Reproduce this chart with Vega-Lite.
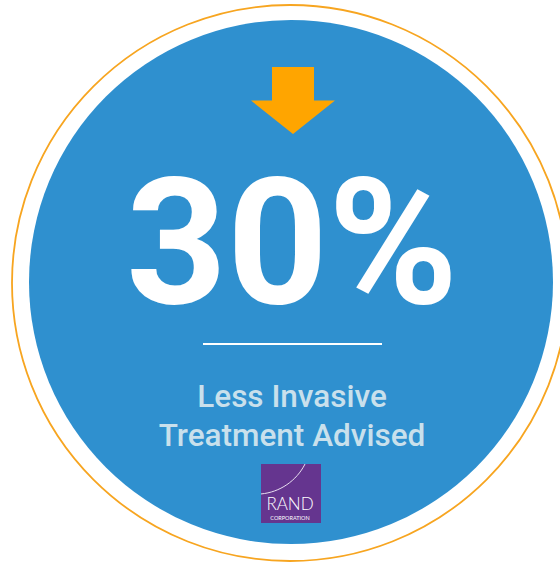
{
  "$schema": "https://vega.github.io/schema/vega-lite/v6.json",
  "width": 560,
  "height": 563,
  "padding": 0,
  "autosize": {"type": "none"},
  "background": "#ffffff",
  "config": {"view": {"stroke": null}},
  "data": {"values": [{"value": 0.30, "label": ["Less Invasive", "Treatment Advised"], "org": "RAND", "orgSub": "CORPORATION"}]},
  "layer": [
    {
      "mark": {"type": "point", "shape": "circle", "filled": false, "stroke": "#f7a520", "strokeWidth": 1.8, "fill": "#ffffff", "fillOpacity": 1, "opacity": 1, "size": 309136},
      "encoding": {
        "x": {"datum": 290, "type": "quantitative", "scale": {"domain": [0, 560]}, "axis": null},
        "y": {"datum": 283, "type": "quantitative", "scale": {"domain": [0, 563], "reverse": true}, "axis": null}
      }
    },
    {
      "mark": {"type": "point", "shape": "circle", "filled": true, "color": "#2f90cf", "opacity": 1, "size": 274576},
      "encoding": {
        "x": {"datum": 291, "type": "quantitative", "scale": {"domain": [0, 560]}, "axis": null},
        "y": {"datum": 282, "type": "quantitative", "scale": {"domain": [0, 563], "reverse": true}, "axis": null}
      }
    },
    {
      "mark": {"type": "point", "shape": "M-0.5,-0.8 L0.5,-0.8 L0.5,0 L1,0 L0,0.8 L-1,0 L-0.5,0 Z", "filled": true, "color": "#ffa500", "opacity": 1, "size": 7056},
      "encoding": {
        "x": {"datum": 293, "type": "quantitative", "scale": {"domain": [0, 560]}, "axis": null},
        "y": {"datum": 100.5, "type": "quantitative", "scale": {"domain": [0, 563], "reverse": true}, "axis": null}
      }
    },
    {
      "mark": {"type": "text", "font": "Roboto", "fontWeight": "bold", "fontSize": 176, "color": "#ffffff", "align": "center", "baseline": "alphabetic"},
      "encoding": {
        "text": {"field": "value", "type": "quantitative", "format": ".0%"},
        "x": {"datum": 292, "type": "quantitative", "scale": {"domain": [0, 560]}, "axis": null},
        "y": {"datum": 303, "type": "quantitative", "scale": {"domain": [0, 563], "reverse": true}, "axis": null}
      }
    },
    {
      "mark": {"type": "rule", "color": "#ffffff", "strokeWidth": 2},
      "encoding": {
        "x": {"datum": 203, "type": "quantitative", "scale": {"domain": [0, 560]}, "axis": null},
        "x2": {"datum": 382},
        "y": {"datum": 344, "type": "quantitative", "scale": {"domain": [0, 563], "reverse": true}, "axis": null}
      }
    },
    {
      "mark": {"type": "text", "font": "Roboto", "fontWeight": 500, "fontSize": 31.5, "lineHeight": 39, "color": "#c9e0ec", "align": "center", "baseline": "alphabetic"},
      "encoding": {
        "text": {"field": "label"},
        "x": {"datum": 292, "type": "quantitative", "scale": {"domain": [0, 560]}, "axis": null},
        "y": {"datum": 407, "type": "quantitative", "scale": {"domain": [0, 563], "reverse": true}, "axis": null}
      }
    },
    {
      "mark": {"type": "rect", "color": "#65358f"},
      "encoding": {
        "x": {"datum": 261, "type": "quantitative", "scale": {"domain": [0, 560]}, "axis": null},
        "x2": {"datum": 321},
        "y": {"datum": 464, "type": "quantitative", "scale": {"domain": [0, 563], "reverse": true}, "axis": null},
        "y2": {"datum": 523}
      }
    },
    {
      "mark": {"type": "point", "shape": "M1,-0.68 A2.5,2.5 0 0 1 -1,0.68", "filled": false, "fill": null, "stroke": "#e8dff0", "strokeWidth": 1, "opacity": 1, "size": 1936},
      "encoding": {
        "x": {"datum": 283, "type": "quantitative", "scale": {"domain": [0, 560]}, "axis": null},
        "y": {"datum": 479, "type": "quantitative", "scale": {"domain": [0, 563], "reverse": true}, "axis": null}
      }
    },
    {
      "mark": {"type": "text", "font": "Lato", "fontWeight": 300, "fontSize": 17, "color": "#ffffff", "align": "center", "baseline": "alphabetic"},
      "encoding": {
        "text": {"field": "org"},
        "x": {"datum": 290, "type": "quantitative", "scale": {"domain": [0, 560]}, "axis": null},
        "y": {"datum": 510, "type": "quantitative", "scale": {"domain": [0, 563], "reverse": true}, "axis": null}
      }
    },
    {
      "mark": {"type": "text", "font": "Lato", "fontWeight": 400, "fontSize": 5.5, "color": "#ffffff", "align": "center", "baseline": "alphabetic"},
      "encoding": {
        "text": {"field": "orgSub"},
        "x": {"datum": 290, "type": "quantitative", "scale": {"domain": [0, 560]}, "axis": null},
        "y": {"datum": 520, "type": "quantitative", "scale": {"domain": [0, 563], "reverse": true}, "axis": null}
      }
    }
  ]
}
